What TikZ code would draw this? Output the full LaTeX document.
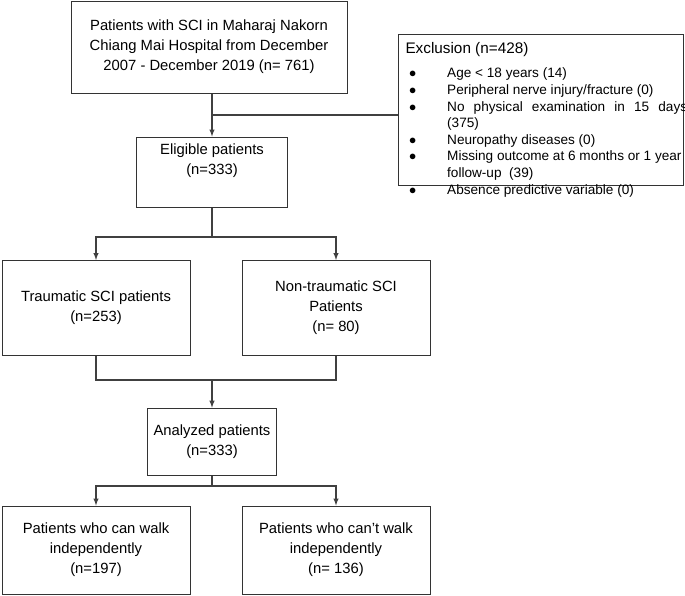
\documentclass[tikz,border=0pt]{standalone}
\usepackage{fontspec}
\setmainfont{Liberation Sans}
\usetikzlibrary{positioning, calc}

\tikzset{
  box/.style={draw=black!80, line width=1pt, align=center, inner sep=2pt, font=\fontsize{14.8}{20}\selectfont},
  link/.style={draw=black!75, line width=1.4pt},
  arrow/.style={link, -latex}
}

\begin{document}
\begin{tikzpicture}[x=1pt, y=-1pt]
  \useasboundingbox (0,0) rectangle (685,595);
  \node[box, minimum width=276pt, minimum height=92pt] (source) at (209,47) {Patients with SCI in Maharaj Nakorn\\Chiang Mai Hospital from December\\2007 - December 2019 (n= 761)};
  \node[box, minimum width=285pt, minimum height=151pt, anchor=north west, align=left, inner sep=0pt] (excl) at (398,34) {};
  \node[anchor=north west, font=\fontsize{15.3}{18}\selectfont] (exclhead) at (402,39) {Exclusion (n=428)};
  \node[anchor=north west, font=\fontsize{13.6}{16.6}\selectfont, inner sep=0pt] (excllist) at (409,66) {%
    \begin{tabular}{@{}p{38pt}@{}p{240pt}@{}}
      $\bullet$ & Age < 18 years (14)\\
      $\bullet$ & Peripheral nerve injury/fracture (0)\\
      $\bullet$ & No physical examination in 15 days (375)\\
      $\bullet$ & Neuropathy diseases (0)\\
      $\bullet$ & Missing outcome at 6 months or 1 year\\
                & follow-up \ (39)\\
      $\bullet$ & Absence predictive variable (0)
    \end{tabular}};
  \node[box, minimum width=151pt, minimum height=70pt] (eligible) at (212,172) {Eligible patients\\(n=333)\\[6pt]};
  \node[box, minimum width=188pt, minimum height=95pt] (trauma) at (96,308) {Traumatic SCI patients\\(n=253)};
  \node[box, minimum width=188pt, minimum height=95pt] (nontrauma) at (336,308) {Non-traumatic SCI\\Patients\\(n= 80)};
  \node[box, line width=1.6pt, minimum width=129pt, minimum height=67pt] (analyzed) at (212,442) {Analyzed patients\\(n=333)};
  \node[box, minimum width=188pt, minimum height=88pt] (walk) at (96,550) {Patients who can walk\\independently\\(n=197)};
  \node[box, minimum width=188pt, minimum height=88pt] (nowalk) at (336,550) {Patients who can't walk\\independently\\(n= 136)};

  % connectors
  \draw[arrow] (source.south -| eligible) -- (eligible.north);
  \coordinate (exclsplit) at (eligible |- 0,115);
  \draw[link] (exclsplit) -- (exclsplit -| excl.west);
  \coordinate (split1) at (eligible |- 0,237);
  \draw[link] (eligible.south) -- (split1);
  \draw[arrow] (split1) -| (trauma.north);
  \draw[arrow] (split1) -| (nontrauma.north);
  \coordinate (join1) at (analyzed |- 0,380);
  \draw[link] (trauma.south) |- (join1);
  \draw[link] (nontrauma.south) |- (join1);
  \draw[arrow] (join1) -- (analyzed.north);
  \coordinate (split2) at (analyzed |- 0,486);
  \draw[link] (analyzed.south) -- (split2);
  \draw[arrow] (split2) -| (walk.north);
  \draw[arrow] (split2) -| (nowalk.north);
\end{tikzpicture}
\end{document}
